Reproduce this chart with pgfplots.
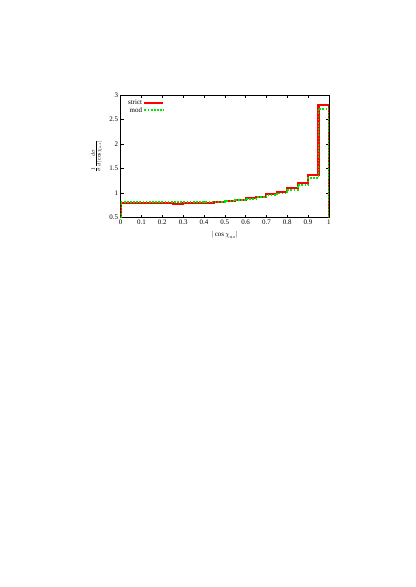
\documentclass[border=0pt]{standalone}
\usepackage{fontspec}
\setmainfont{Liberation Serif}
\usepackage{pgfplots}
\pgfplotsset{compat=1.18}

\definecolor{gpred}{RGB}{255,0,0}
\definecolor{gpgreen}{RGB}{0,230,0}

% bin left edges, with the drop to 0.5 at both ends
\pgfplotstableread{
x     strict  mod
0.00  0.50    0.50
0.00  0.795   0.82
0.05  0.80    0.82
0.10  0.80    0.82
0.15  0.80    0.82
0.20  0.80    0.82
0.25  0.785   0.82
0.30  0.79    0.82
0.35  0.80    0.82
0.40  0.805   0.82
0.45  0.82    0.825
0.50  0.84    0.84
0.55  0.865   0.86
0.60  0.90    0.885
0.65  0.93    0.92
0.70  0.975   0.96
0.75  1.03    0.995
0.80  1.11    1.07
0.85  1.205   1.165
0.90  1.365   1.31
0.95  2.80    2.72
1.00  2.80    2.72
1.00  0.50    0.50
}\histdata

\begin{document}
\begin{tikzpicture}[x=1pt,y=1pt]
\useasboundingbox (0,0) rectangle (595,841.6);
\begin{axis}[
  at={(173pt,529.5pt)}, anchor=south west,
  scale only axis,
  width=298.6pt, height=176pt,
  xmin=0, xmax=1, ymin=0.5, ymax=3,
  xtick={0,0.1,...,1.0},
  ytick={0.5,1,1.5,2,2.5,3},
  tick align=inside,
  major tick length=4.5pt,
  minor tick num=0,
  axis line style={line width=0.9pt},
  tick style={line width=0.7pt, black},
  tick label style={font=\fontsize{10}{11}\selectfont},
  /pgf/number format/assume math mode=true,
  xticklabel style={/pgf/number format/.cd, fixed, precision=1},
  yticklabel style={/pgf/number format/.cd, fixed, precision=1},
  xlabel={$|\cos\chi_{az}|$},
  xlabel style={font=\fontsize{10}{11}\selectfont, yshift=-3pt},
  ylabel={$\frac{1}{\sigma}\frac{d\sigma}{d|\cos\chi_{az}|}$},
  ylabel style={font=\fontsize{11}{12}\selectfont, yshift=4pt},
  legend style={draw=none, fill=none, font=\fontsize{10}{11}\selectfont,
    at={(rel axis cs:0.025,0.975)}, anchor=north west,
    row sep=-2pt, inner sep=1pt},
  legend cell align=right,
  legend plot pos=right,
  legend image code/.code={\draw[#1] (0cm,0cm) -- (0.95cm,0cm);},
]
\addplot[const plot mark left, draw=gpred, line width=3pt] table[x=x, y=strict] {\histdata};
\addlegendentry{strict}
\addplot[const plot mark left, draw=gpgreen, line width=2.5pt, dash pattern=on 2.5pt off 2pt] table[x=x, y=mod] {\histdata};
\addlegendentry{mod}
\end{axis}
\end{tikzpicture}
\end{document}
